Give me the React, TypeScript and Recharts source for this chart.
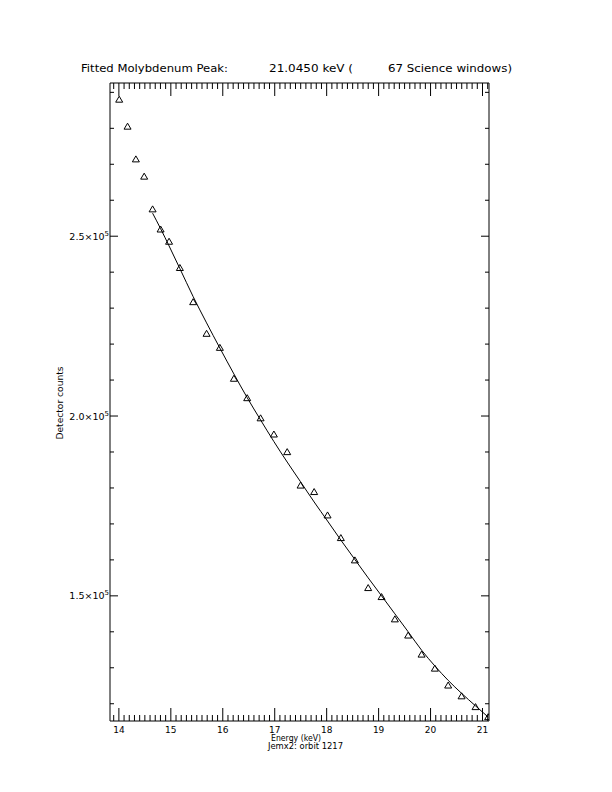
import { ComposedChart, Line, Scatter, XAxis, YAxis } from 'recharts';

// energy of each science-window point (keV)
const energy = [
  14.006, 14.167, 14.327, 14.487, 14.649, 14.803, 14.966, 15.174, 15.43, 15.688, 15.944,
  16.214, 16.47, 16.728, 16.984, 17.24, 17.498, 17.759, 18.017, 18.273, 18.543, 18.799,
  19.057, 19.313, 19.569, 19.827, 20.083, 20.339, 20.597, 20.866, 21.109,
];

// measured detector counts
const counts = [
  288100, 280600, 271500, 266700, 257600, 252000, 248600, 241300, 231800, 223000, 219100,
  210500, 205100, 199500, 195000, 190100, 180800, 179000, 172500, 166200, 160000, 152300,
  149800, 143600, 139100, 133800, 129900, 125200, 122200, 119200, 116400,
];

// fitted curve (only over the fit range)
const fit = [
  null, null, null, null, 256400, 252100, 247300, 241000, 233200, 225900, 218900,
  211700, 205100, 198900, 192900, 187200, 181700, 176100, 170800, 165500, 160100, 155000,
  150000, 145000, 140000, 134900, 130500, 126500, 122900, 119400, 116300,
];

const xMajor = [14, 15, 16, 17, 18, 19, 20, 21];
const yMajor = [150000, 200000, 250000];
const yLabels = ['1.5', '2.0', '2.5'];

const X_DOMAIN: [number, number] = [13.829, 21.125];
const Y_DOMAIN: [number, number] = [115200, 292600];

// minor ticks every 0.1 keV and every 10^4 counts
const xTicks: number[] = [];
for (let k = 139; k <= 211; k++) xTicks.push(k / 10);
const yTicks: number[] = [];
for (let k = 12; k <= 29; k++) yTicks.push(k * 10000);

const rows = energy.map((e, i) => ({ e, counts: counts[i], fit: fit[i] }));

const FONT = 'DejaVu Sans';
const isXMajor = (v: number) => xMajor.some((m) => Math.abs(m - v) < 1e-6);
const isYMajor = (v: number) => yMajor.includes(v);

function BottomTick(props: any) {
  const { x, y, payload } = props;
  const major = isXMajor(payload.value);
  return (
    <g>
      <line x1={x} y1={y} x2={x} y2={y - (major ? 13 : 6)} stroke="#000" />
      {major && (
        <text x={x} y={y + 11.5} textAnchor="middle" fontSize={9} fontFamily={FONT} fill="#000">
          {payload.value}
        </text>
      )}
    </g>
  );
}

function TopTick(props: any) {
  const { x, y, payload } = props;
  const major = isXMajor(payload.value);
  return <line x1={x} y1={y} x2={x} y2={y + (major ? 13 : 6)} stroke="#000" />;
}

function LeftTick(props: any) {
  const { x, y, payload } = props;
  const idx = yMajor.indexOf(payload.value);
  const major = idx >= 0;
  return (
    <g>
      <line x1={x} y1={y} x2={x + (major ? 8 : 4)} y2={y} stroke="#000" />
      {major && (
        <text x={x - 1} y={y + 3.5} textAnchor="end" fontSize={9.5} fontFamily={FONT} fill="#000">
          {yLabels[idx]}×10
          <tspan dy={-4} fontSize={7}>5</tspan>
        </text>
      )}
    </g>
  );
}

function RightTick(props: any) {
  const { x, y, payload } = props;
  const major = isYMajor(payload.value);
  return <line x1={x} y1={y} x2={x - (major ? 8 : 4)} y2={y} stroke="#000" />;
}

function Triangle(props: any) {
  const { cx, cy } = props;
  if (cx == null || cy == null) return null;
  return (
    <path
      d={`M${cx},${cy - 3} L${cx + 3.5},${cy + 3} L${cx - 3.5},${cy + 3} Z`}
      fill="none"
      stroke="#000"
      strokeWidth={1}
    />
  );
}

export default function App() {
  return (
    <div style={{ position: 'absolute', left: 0, top: 0, width: 612, height: 792, background: '#fff' }}>
      <ComposedChart
        width={612}
        height={792}
        data={rows}
        margin={{ top: 63, right: 83, bottom: 51, left: 70 }}
      >
        <XAxis
          xAxisId="b"
          dataKey="e"
          type="number"
          domain={X_DOMAIN}
          allowDataOverflow
          ticks={xTicks}
          interval={0}
          height={20}
          tickLine={false}
          tickSize={0}
          tickMargin={0}
          tick={<BottomTick />}
          axisLine={{ stroke: '#000' }}
        />
        <XAxis
          xAxisId="t"
          orientation="top"
          dataKey="e"
          type="number"
          domain={X_DOMAIN}
          allowDataOverflow
          ticks={xTicks}
          interval={0}
          height={20}
          tickLine={false}
          tickSize={0}
          tickMargin={0}
          tick={<TopTick />}
          axisLine={{ stroke: '#000' }}
        />
        <YAxis
          yAxisId="l"
          type="number"
          domain={Y_DOMAIN}
          allowDataOverflow
          ticks={yTicks}
          interval={0}
          width={40}
          tickLine={false}
          tickSize={0}
          tickMargin={0}
          tick={<LeftTick />}
          axisLine={{ stroke: '#000' }}
        />
        <YAxis
          yAxisId="r"
          orientation="right"
          type="number"
          domain={Y_DOMAIN}
          allowDataOverflow
          ticks={yTicks}
          interval={0}
          width={40}
          tickLine={false}
          tickSize={0}
          tickMargin={0}
          tick={<RightTick />}
          axisLine={{ stroke: '#000' }}
        />
        <Line
          xAxisId="b"
          yAxisId="l"
          dataKey="fit"
          type="monotone"
          stroke="#000"
          strokeWidth={1}
          dot={false}
          isAnimationActive={false}
        />
        <Scatter
          xAxisId="b"
          yAxisId="l"
          dataKey="counts"
          shape={<Triangle />}
          isAnimationActive={false}
        />
      </ComposedChart>
      <svg
        width={612}
        height={792}
        style={{ position: 'absolute', left: 0, top: 0, pointerEvents: 'none' }}
        fontFamily={FONT}
        fill="#000"
      >
        <text x={81} y={71.5} fontSize={11} textLength={147} lengthAdjust="spacingAndGlyphs">
          Fitted Molybdenum Peak:
        </text>
        <text x={269} y={71.5} fontSize={11} textLength={84} lengthAdjust="spacingAndGlyphs">
          21.0450 keV (
        </text>
        <text x={388} y={71.5} fontSize={11} textLength={124} lengthAdjust="spacingAndGlyphs">
          67 Science windows)
        </text>
        <text
          x={0}
          y={0}
          fontSize={9}
          textAnchor="middle"
          textLength={73}
          lengthAdjust="spacingAndGlyphs"
          transform="translate(63, 403) rotate(-90)"
        >
          Detector counts
        </text>
        <text x={271} y={741} fontSize={8} textLength={50} lengthAdjust="spacingAndGlyphs">
          Energy (keV)
        </text>
        <text x={268} y={749} fontSize={8} textLength={75} lengthAdjust="spacingAndGlyphs">
          Jemx2: orbit 1217
        </text>
      </svg>
    </div>
  );
}
